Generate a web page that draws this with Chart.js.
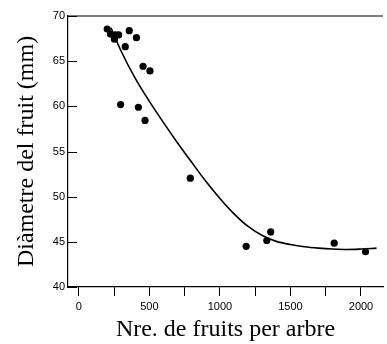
<!DOCTYPE html>
<html>
<head>
<meta charset="utf-8">
<script src="https://cdn.jsdelivr.net/npm/chart.js@4/dist/chart.umd.min.js"></script>
<style>
  html, body { margin: 0; padding: 0; background: #fff; }
  #wrap { width: 387px; height: 344px; position: relative; }
</style>
</head>
<body>
<div id="wrap"><canvas id="myChart" width="387" height="344"></canvas></div>
<script>
// measured points (fruits per tree, fruit diameter mm)
const fruitCounts = [201, 224, 252, 259, 282, 357, 329, 408, 455, 504, 296, 422, 469, 790, 1186, 1332, 1360, 1810, 2032];
const diameters   = [68.56, 68.0, 67.44, 67.9, 67.9, 68.37, 66.6, 67.6, 64.44, 63.92, 60.2, 59.9, 58.44, 52.05, 44.5, 45.15, 46.1, 44.85, 43.9];

// fitted curve
const curveX = [228, 300, 400, 500, 600, 700, 800, 900, 1000, 1100, 1200, 1300, 1400, 1500, 1600, 1700, 1800, 1900, 2000, 2110];
const curveY = [68.7, 66.1, 63.1, 60.55, 58.2, 55.95, 53.8, 51.7, 49.8, 48.1, 46.7, 45.7, 45.05, 44.7, 44.45, 44.3, 44.2, 44.15, 44.2, 44.3];

const xTickValues = [0, 250, 500, 750, 1000, 1250, 1500, 1750, 2000];
const xTickLabels = ['0', '', '500', '', '1000', '', '1500', '', '2000'];
const yTickValues = [40, 45, 50, 55, 60, 65, 70];

const xTitle = 'Nre. de fruits per arbre';
const yTitle = 'Diàmetre del fruit (mm)';

const framePlugin = {
  id: 'frameAndTicks',
  afterDraw(chart) {
    const { ctx, chartArea, scales } = chart;
    ctx.save();
    ctx.strokeStyle = '#000';
    ctx.lineWidth = 1.2;
    ctx.beginPath();
    ctx.moveTo(chartArea.left, chartArea.top);
    ctx.lineTo(chartArea.right, chartArea.top);
    ctx.stroke();
    // inward y ticks
    ctx.lineWidth = 1;
    yTickValues.forEach(v => {
      const y = Math.round(scales.y.getPixelForValue(v)) + 0.5;
      ctx.beginPath();
      ctx.moveTo(chartArea.left, y);
      ctx.lineTo(chartArea.left + 9, y);
      ctx.stroke();
    });
    ctx.restore();
  }
};

const canvas = document.getElementById('myChart');
new Chart(canvas, {
  type: 'scatter',
  data: {
    datasets: [
      {
        data: curveX.map((x, i) => ({ x: x, y: curveY[i] })),
        showLine: true,
        borderColor: '#000',
        borderWidth: 1.6,
        cubicInterpolationMode: 'monotone',
        pointRadius: 0,
        fill: false
      },
      {
        data: fruitCounts.map((x, i) => ({ x: x, y: diameters[i] })),
        backgroundColor: '#000',
        borderColor: '#000',
        pointRadius: 3.6,
        borderWidth: 0
      }
    ]
  },
  options: {
    responsive: false,
    animation: false,
    layout: { padding: { top: 16, right: 0, left: 0, bottom: 0 } },
    plugins: { legend: { display: false }, tooltip: { enabled: false } },
    scales: {
      x: {
        type: 'linear',
        min: -77,
        max: 2156,
        afterBuildTicks: axis => { axis.ticks = xTickValues.map(v => ({ value: v })); },
        afterFit: axis => { axis.height = 57; },
        ticks: {
          color: '#000',
          padding: 4,
          maxRotation: 0,
          autoSkip: false,
          font: { family: '"Liberation Sans", Arial, sans-serif', size: 11 },
          callback: (val) => {
            const idx = xTickValues.indexOf(val);
            return idx >= 0 ? xTickLabels[idx] : '';
          }
        },
        grid: { display: true, drawOnChartArea: false, drawTicks: true, tickLength: 9, color: '#000', lineWidth: 1 },
        border: { display: true, color: '#000', width: 1.2 },
        title: {
          display: true,
          text: xTitle,
          color: '#000',
          padding: { top: 0, bottom: 0 },
          font: { family: '"Liberation Serif", "Times New Roman", serif', size: 24, lineHeight: 1.2 }
        }
      },
      y: {
        min: 40,
        max: 70,
        afterBuildTicks: axis => { axis.ticks = yTickValues.map(v => ({ value: v })); },
        afterFit: axis => { axis.width = 68; },
        ticks: {
          color: '#000',
          padding: 3,
          font: { family: '"Liberation Sans", Arial, sans-serif', size: 11 }
        },
        grid: { display: false, drawTicks: false },
        border: { display: true, color: '#000', width: 1.2 },
        title: {
          display: true,
          text: yTitle,
          color: '#000',
          padding: { top: 12, bottom: 0 },
          font: { family: '"Liberation Serif", "Times New Roman", serif', size: 24, lineHeight: 1.2 }
        }
      }
    }
  },
  plugins: [framePlugin]
});
</script>
</body>
</html>
